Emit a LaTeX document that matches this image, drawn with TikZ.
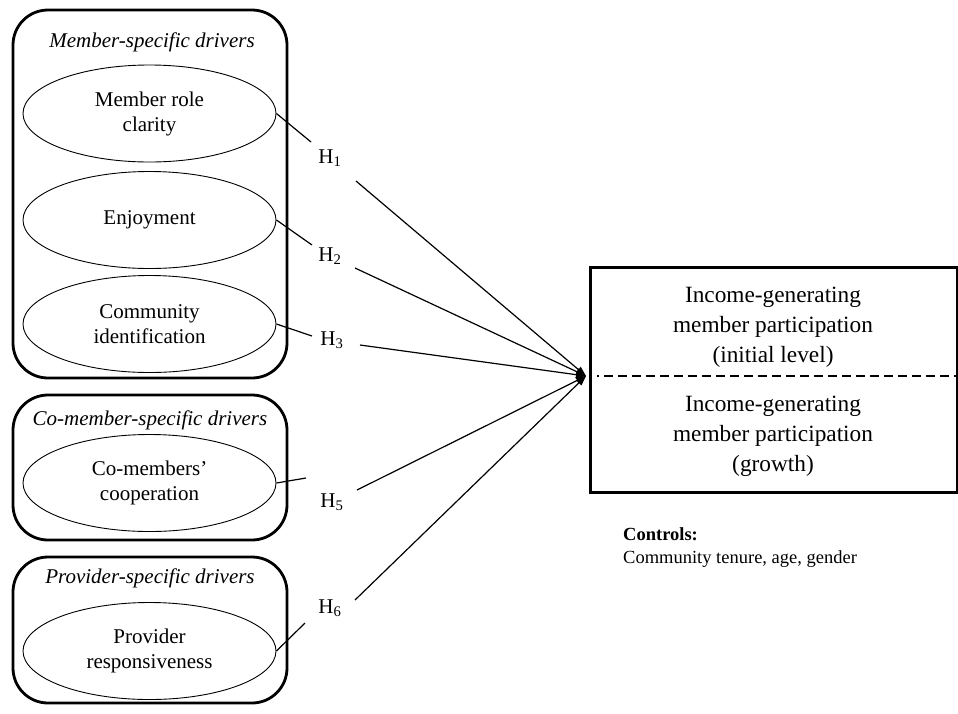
\documentclass[tikz,border=0pt]{standalone}
\usepackage{fontspec}
\setmainfont{Liberation Serif}
\usetikzlibrary{shapes.geometric,arrows.meta}
\tikzset{
  drivergroup/.style={draw, line width=2.8pt, rounded corners=35pt, minimum width=274pt, inner sep=0pt},
  construct/.style={draw, ellipse, line width=0.9pt, minimum width=253pt, minimum height=97pt,
    align=center, font=\fontsize{21}{25}\selectfont, inner sep=0pt},
  grouptitle/.style={font=\fontsize{21}{25}\selectfont\itshape, anchor=base, inner sep=0pt},
  hyp/.style={font=\fontsize{21}{25}\selectfont, inner sep=0pt},
  outtext/.style={align=center, font=\fontsize{23.3}{30}\selectfont, inner sep=0pt},
  link/.style={line width=1.2pt},
  arrowlink/.style={link, -{Triangle[length=10pt,width=7pt]}},
}
\begin{document}
\begin{tikzpicture}[x=1pt,y=-1pt]
\useasboundingbox (0,0) rectangle (958,713);
% groups
\node[drivergroup, minimum height=368pt] (g1) at (150,194) {};
\node[drivergroup, minimum height=145pt] (g2) at (150,467.5) {};
\node[drivergroup, minimum height=146pt] (g3) at (150,630) {};
\node[grouptitle] (t1) at (152,47) {Member-specific drivers};
\node[grouptitle] (t2) at (150,425) {Co-member-specific drivers};
\node[grouptitle] (t3) at (150,583) {Provider-specific drivers};
% constructs
\node[construct] (e1) at (149.5,113.5) {Member role\\clarity};
\node[construct] (e2) at (149.5,220) {Enjoyment};
\node[construct] (e3) at (149.5,324) {Community\\identification};
\node[construct] (e4) at (149.5,483) {Co-members'\\cooperation};
\node[construct] (e5) at (149.5,651) {Provider\\responsiveness};
% outcome
\node[draw, line width=3pt, minimum width=367pt, minimum height=225pt, inner sep=0pt] (out) at (773.5,379.5) {};
\coordinate (dashL) at (597,376);
\coordinate (dashR) at (957,376);
\draw[line width=2.5pt, dash pattern=on 9pt off 5pt, dash phase=7pt] (dashL) -- (dashR);
\node[outtext] (up) at (773,327) {Income-generating\\member participation\\(initial level)};
\node[outtext] (low) at (773,436) {Income-generating\\member participation\\(growth)};
\coordinate (tip) at (586,376);
% controls
\node[anchor=base west, inner sep=0pt, font=\fontsize{18.5}{22}\selectfont\bfseries] (ctrl) at (623,540) {Controls:};
\node[anchor=base west, inner sep=0pt, font=\fontsize{18.5}{22}\selectfont] (ctrlv) at (623,563) {Community tenure, age, gender};
% hypotheses
\node[hyp] (h1) at (330,158) {H\textsubscript{1}};
\node[hyp] (h2) at (330,256) {H\textsubscript{2}};
\node[hyp] (h3) at (332,340) {H\textsubscript{3}};
\node[hyp] (h5) at (332,502) {H\textsubscript{5}};
\node[hyp] (h6) at (330,608) {H\textsubscript{6}};
\coordinate (h1a) at (311,142); \coordinate (h1b) at (356,181);
\coordinate (h2a) at (312,245); \coordinate (h2b) at (355,268);
\coordinate (h3a) at (312,336); \coordinate (h3b) at (360,345);
\coordinate (h5a) at (306,478); \coordinate (h5b) at (357,490);
\coordinate (h6a) at (305,623); \coordinate (h6b) at (355,600);
\draw[link] (e1.east) -- (h1a);
\draw[arrowlink] (h1b) -- (tip);
\draw[link] (e2.east) -- (h2a);
\draw[arrowlink] (h2b) -- (tip);
\draw[link] (e3.east) -- (h3a);
\draw[arrowlink] (h3b) -- (tip);
\draw[link] (e4.east) -- (h5a);
\draw[arrowlink] (h5b) -- (tip);
\draw[link] (e5.east) -- (h6a);
\draw[arrowlink] (h6b) -- (tip);
\end{tikzpicture}
\end{document}
